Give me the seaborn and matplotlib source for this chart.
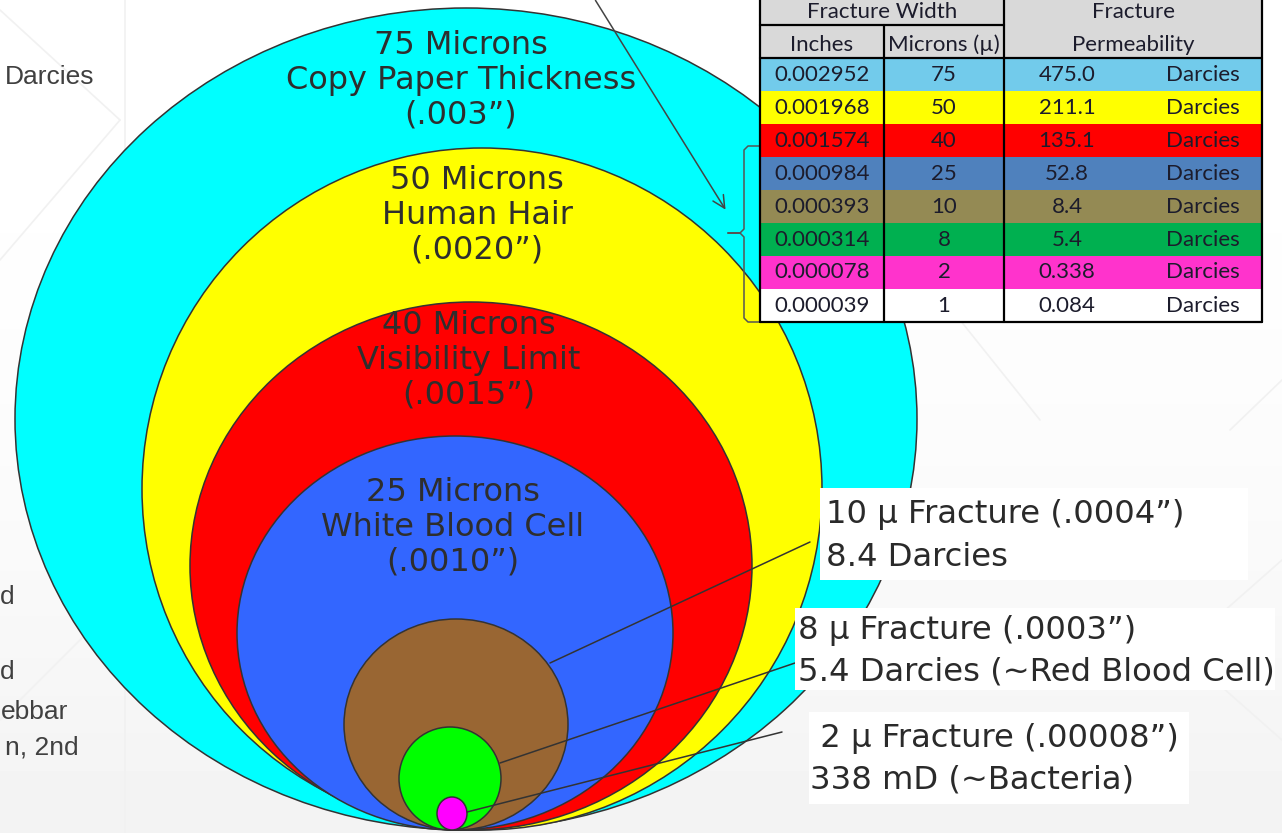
import numpy as np
import matplotlib.pyplot as plt
import seaborn as sns
from matplotlib.patches import Ellipse, Rectangle

# ==========================================
# data
# ==========================================
microns = [75, 50, 40, 25, 10, 8, 2]
circle_titles = ["Copy Paper Thickness", "Human Hair", "Visibility Limit",
                 "White Blood Cell", "", "", ""]
circle_inches = ['(.003”)', '(.0020”)', '(.0015”)', '(.0010”)', "", "", ""]
circle_colors = ["#00FFFF", "#FFFF00", "#FF0000", "#3366FF", "#996633", "#00FF00", "#FF00FF"]

table_inches = ["0.002952", "0.001968", "0.001574", "0.000984",
                "0.000393", "0.000314", "0.000078", "0.000039"]
table_microns = ["75", "50", "40", "25", "10", "8", "2", "1"]
table_perm = ["475.0", "211.1", "135.1", "52.8", "8.4", "5.4", "0.338", "0.084"]
table_colors = ["#72CBEB", "#FFFF00", "#FF0000", "#4F81BD",
                "#948A54", "#00B050", "#FF33CC", "#FFFFFF"]

callouts = [["10 µ Fracture (.0004”)", "8.4 Darcies"],
            ["8 µ Fracture (.0003”)", "5.4 Darcies (~Red Blood Cell)"],
            [" 2 µ Fracture (.00008”)", "338 mD (~Bacteria)"]]

# ==========================================
# layout (pixels of the 1282x833 canvas)
# ==========================================
circ_cx = [466, 482, 471, 455, 456, 450, 452]
circ_w = [902, 680, 562, 436, 224, 102, 30]
circ_top = [8, 148, 302, 436, 619, 727, 797]
circ_bottom = 830
label_y = [45, 180, 325, 492]
label_dy = 35

sns.set_theme(style="white")
plt.rcParams['font.family'] = ['DejaVu Sans']

fig = plt.figure(figsize=(12.82, 8.33), dpi=100)
ax = fig.add_axes([0, 0, 1, 1])
ax.set_xlim(0, 1282)
ax.set_ylim(833, 0)
ax.axis('off')

# slide background: faint gradient + faint template lines
grad = np.linspace(0, 1, 200)[:, None] ** 2
ax.imshow(1 - 0.05 * grad, cmap='gray', vmin=0, vmax=1, extent=[0, 1282, 833, 0],
          aspect='auto', zorder=0)
for x0, y0, x1, y1 in [(0, 10, 120, 120), (120, 120, 0, 260), (125, 0, 125, 300),
                       (0, 720, 120, 600), (125, 600, 125, 833), (1180, 650, 1282, 560),
                       (1180, 650, 1282, 740), (960, 320, 1040, 420), (1230, 430, 1282, 380)]:
    ax.plot([x0, x1], [y0, y1], color="#f1f1f1", lw=1.2, zorder=0.5)

# clipped slide text at left
left_txt = [("Darcies", 5, 77, 'left'), ("d", 0, 597, 'left'), ("d", 0, 672, 'left'),
            ("ebbar", 68, 712, 'right'), ("n, 2nd", 79, 748, 'right')]
for t, x, y, ha in left_txt:
    ax.text(x, y, t, fontsize=19, family='Liberation Sans', color='#404040',
            ha=ha, va='center', zorder=1)

# nested circles
for i, m in enumerate(microns):
    h = circ_bottom - circ_top[i]
    ax.add_patch(Ellipse((circ_cx[i], circ_top[i] + h / 2), circ_w[i], h,
                         facecolor=circle_colors[i], edgecolor='#333333', lw=1.1,
                         zorder=2 + i))
    if circle_titles[i]:
        lines = [f"{m} Microns", circle_titles[i], circle_inches[i]]
        for k, line in enumerate(lines):
            ax.text(circ_cx[i] - 5 if i < 2 else circ_cx[i] - 2, label_y[i] + k * label_dy, line,
                    fontsize=23, color='#2e2e2e', ha='center', va='center', zorder=2 + i)

# callout boxes
box_xy = [(820, 488, 428, 92), (795, 608, 480, 82), (809, 712, 380, 92)]
text_pos = [(826, 515, 557), (798, 630, 672), (810, 738, 780)]
for (bx, by, bw, bh), (tx, y1, y2), lines in zip(box_xy, text_pos, callouts):
    ax.add_patch(Rectangle((bx, by), bw, bh, facecolor='white', edgecolor='none', zorder=20))
    ax.text(tx, y1, lines[0], fontsize=23.2, color='#2a2a2a', va='center', zorder=21)
    ax.text(tx, y2, lines[1], fontsize=23.2, color='#2a2a2a', va='center', zorder=21)

# leader lines
for (x0, y0, x1, y1) in [(550, 663, 810, 542), (500, 763, 795, 663), (467, 812, 782, 732)]:
    ax.plot([x0, x1], [y0, y1], color='#333333', lw=1.1, zorder=15)

# pointer arrow from top
ax.annotate("", xy=(727, 212), xytext=(594, -2),
            arrowprops=dict(arrowstyle='->', color='#444444', lw=1.1,
                            mutation_scale=22), zorder=30)

# bracket left of table
bx = [760, 748, 744, 744, 740, 728, 740, 744, 744, 748, 760]
by = [146, 146, 150, 229, 233, 233, 233, 237, 318, 322, 322]
ax.plot(bx, by, color='#555555', lw=1.1, zorder=30)

# table
tx0, tx1, tx2, tx3 = 760, 884, 1004, 1262
ax.add_patch(Rectangle((tx0, 0), tx3 - tx0, 58, facecolor='#D9D9D9', edgecolor='none', zorder=40))
row_h = (322 - 58) / len(table_inches)
tfont = dict(family='Lato', fontsize=16, color='#1c1c2c', va='center', zorder=42)
for r in range(len(table_inches)):
    y = 58 + r * row_h
    ax.add_patch(Rectangle((tx0, y), tx3 - tx0, row_h, facecolor=table_colors[r],
                           edgecolor='none', zorder=40))
    yc = y + row_h / 2
    ax.text((tx0 + tx1) / 2, yc, table_inches[r], ha='center', **tfont)
    ax.text((tx1 + tx2) / 2, yc, table_microns[r], ha='center', **tfont)
    ax.text(1067, yc, table_perm[r], ha='center', **tfont)
    ax.text(1203, yc, "Darcies", ha='center', **tfont)
ax.text((tx0 + tx2) / 2, 12, "Fracture Width", ha='center', **tfont)
ax.text((tx2 + tx3) / 2, 12, "Fracture", ha='center', **tfont)
ax.text((tx0 + tx1) / 2, 45, "Inches", ha='center', **tfont)
ax.text((tx1 + tx2) / 2, 45, "Microns (µ)", ha='center', **tfont)
ax.text((tx2 + tx3) / 2, 45, "Permeability", ha='center', **tfont)

lk = dict(color='black', lw=1.6, zorder=43)
ax.plot([tx0, tx0], [0, 322], **lk)
ax.plot([tx3, tx3], [0, 322], **lk)
ax.plot([tx2, tx2], [0, 322], **lk)
ax.plot([tx1, tx1], [25, 322], **lk)
ax.plot([tx0, tx2], [25, 25], **lk)
ax.plot([tx0, tx3], [58, 58], **lk)
ax.plot([tx0, tx3], [322, 322], **lk)

fig.savefig("out.png", dpi=100)
